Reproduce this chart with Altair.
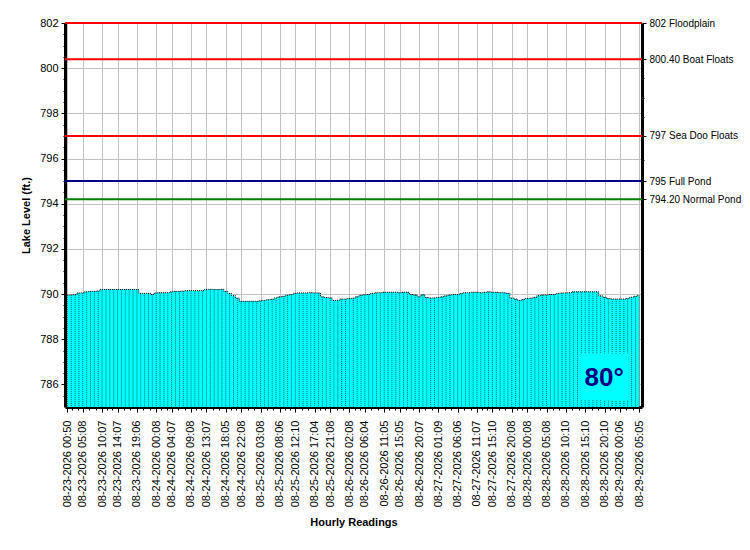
import json
import altair as alt
import pandas as pd

# ---- data ----
levels = [
    789.96, 789.96, 789.97,
    790.05, 790.05,
    790.10, 790.12, 790.12, 790.14,
    790.20, 790.20, 790.20, 790.20, 790.20, 790.20, 790.20, 790.20, 790.20, 790.20,
    790.03, 790.03, 790.03,
    789.98,
    790.05, 790.06, 790.06, 790.06,
    790.10, 790.12, 790.12, 790.13, 790.15, 790.15, 790.15, 790.15, 790.15,
    790.20, 790.21, 790.20, 790.20, 790.21,
    790.12, 790.03, 789.93, 789.82,
    789.68, 789.68, 789.68, 789.68, 789.68,
    789.70, 789.72, 789.75, 789.77,
    789.83, 789.88, 789.90, 789.95, 789.98,
    790.03, 790.05, 790.05, 790.05, 790.06, 790.05, 790.05,
    789.88, 789.85, 789.83,
    789.72, 789.72,
    789.78, 789.78, 789.80, 789.82,
    789.88,
    789.95, 789.97, 789.98,
    790.03, 790.06, 790.06, 790.08, 790.08, 790.08, 790.08, 790.06, 790.08, 790.08,
    789.98, 789.96,
    789.88,
    789.97,
    789.85, 789.83, 789.83, 789.85, 789.88,
    789.92, 789.96, 789.98, 789.98,
    790.03, 790.06, 790.06, 790.08, 790.08, 790.06, 790.08, 790.10, 790.08, 790.08, 790.06, 790.06, 790.03,
    789.82, 789.78,
    789.72,
    789.76, 789.80, 789.82, 789.85,
    789.93, 789.96, 789.96, 789.98, 789.98,
    790.03, 790.05, 790.05, 790.06,
    790.10, 790.10, 790.10, 790.10, 790.10, 790.10, 790.10,
    789.92, 789.86,
    789.80, 789.78, 789.78, 789.78, 789.78, 789.80,
    789.86, 789.90, 789.94,
]
assert len(levels) == 149

label_readings = [0, 4, 9, 13, 18, 23, 27, 32, 36, 41, 45, 50, 55, 59, 64, 68, 73,
                  77, 82, 86, 91, 96, 101, 106, 110, 115, 119, 124, 129, 134, 139, 143, 148]
label_texts = [
    "08-23-2026 00:50", "08-23-2026 05:08", "08-23-2026 10:07", "08-23-2026 14:07",
    "08-23-2026 19:06", "08-24-2026 00:08", "08-24-2026 04:07", "08-24-2026 09:08",
    "08-24-2026 13:07", "08-24-2026 18:05", "08-24-2026 22:08", "08-25-2026 03:08",
    "08-25-2026 08:06", "08-25-2026 12:10", "08-25-2026 17:04", "08-25-2026 21:08",
    "08-26-2026 02:08", "08-26-2026 06:04", "08-26-2026 11:05", "08-26-2026 15:05",
    "08-26-2026 20:07", "08-27-2026 01:09", "08-27-2026 06:06", "08-27-2026 11:07",
    "08-27-2026 15:10", "08-27-2026 20:08", "08-28-2026 00:08", "08-28-2026 05:08",
    "08-28-2026 10:10", "08-28-2026 15:10", "08-28-2026 20:10", "08-29-2026 00:06",
    "08-29-2026 05:05",
]

threshold_values = [802, 800.4, 797, 795, 794.2]
threshold_names = ["802 Floodplain", "800.40 Boat Floats", "797 Sea Doo Floats",
                   "795 Full Pond", "794.20 Normal Pond"]
threshold_colors = ["#ff0000", "#ff0000", "#ff0000", "#000080", "#008000"]
threshold_widths = [2, 2, 2, 1, 1]
right_minor_ticks = [799.55, 798.7, 797.85, 795.93]

temperature = "80°"

# ---- tables ----
df = pd.DataFrame({"reading": list(range(len(levels))), "level": levels})
df_thr = pd.DataFrame({"value": threshold_values, "name": threshold_names})

FONT = "Liberation Sans"
Y_DOMAIN = [785, 802]
X_DOMAIN = [-0.6, 148.7]
GRID = "#c0c0c0"

x_minor = []
for a, b in zip(label_readings[:-1], label_readings[1:]):
    x_minor += [a + (b - a) / 3, a + 2 * (b - a) / 3]

lab_arr = json.dumps(label_readings)
txt_arr = json.dumps(label_texts)

xscale = alt.Scale(domain=X_DOMAIN, nice=False, zero=False)
yscale = alt.Scale(domain=Y_DOMAIN, nice=False, zero=False)

x_axis = alt.Axis(
    orient="bottom", values=label_readings,
    labelExpr=f"{txt_arr}[indexof({lab_arr}, datum.value)]",
    labelAngle=-90, labelFont=FONT, labelFontSize=11, labelColor="black",
    labelPadding=8, labelOverlap=False, labelFlush=False, labelBound=False,
    grid=True, gridColor=GRID, gridWidth=1,
    tickColor="black", tickWidth=1, tickSize=5,
    domainColor="black", domainWidth=3,
    title="Hourly Readings", titleFont=FONT, titleFontSize=11,
    titleFontWeight="bold", titleColor="black", titlePadding=10,
)
x_axis_minor = alt.Axis(
    orient="bottom", values=x_minor, labels=False, grid=False, domain=False,
    tickColor="black", tickWidth=1, tickSize=3, title=None,
)

y_axis = alt.Axis(
    orient="left", values=[786 + 2 * k for k in range(9)], format="d",
    labelFont=FONT, labelFontSize=11, labelColor="black", labelPadding=3,
    labelOverlap=False,
    grid=True, gridColor=GRID, gridWidth=1,
    tickColor="black", tickWidth=1, tickSize=4,
    domainColor="black", domainWidth=3,
    title="Lake Level (ft.)", titleFont=FONT, titleFontSize=11,
    titleFontWeight="bold", titleColor="black", titlePadding=8,
)
y_axis_minor = alt.Axis(
    orient="left", values=[785.5 + 2 * k for k in range(9)] + [786.5 + 2 * k for k in range(8)]
    + [787.5 + 2 * k for k in range(8)] + [787 + 2 * k for k in range(8)],
    labels=False, grid=False, domain=False,
    tickColor="black", tickWidth=1, tickSize=2, title=None,
)

thr_arr = json.dumps(threshold_values)
name_arr = json.dumps(threshold_names)
right_axis = alt.Axis(
    orient="right", values=threshold_values,
    labelExpr=f"{name_arr}[indexof({thr_arr}, datum.value)]",
    labelFont=FONT, labelFontSize=10, labelColor="black", labelPadding=3,
    labelOverlap=False, labelFlush=False, labelBound=False,
    grid=False, tickColor="black", tickWidth=1, tickSize=4,
    domainColor="black", domainWidth=3, title=None,
)
right_axis_minor = alt.Axis(
    orient="right", values=right_minor_ticks, labels=False, grid=False, domain=False,
    tickColor="black", tickWidth=1, tickSize=2, title=None,
)

base = alt.Chart(df)

area = base.mark_area(color="#00ffff", interpolate="step", opacity=1, clip=True).encode(
    x=alt.X("reading:Q", scale=xscale, axis=x_axis),
    y=alt.Y("level:Q", scale=yscale, axis=y_axis),
    y2=alt.datum(Y_DOMAIN[0]),
)

dots = base.mark_rule(color="black", strokeDash=[1, 1], strokeWidth=1, opacity=0.6, clip=True).encode(
    x=alt.X("reading:Q", scale=xscale, axis=x_axis_minor),
    y=alt.Y("level:Q", scale=yscale, axis=y_axis_minor),
    y2=alt.datum(Y_DOMAIN[0]),
)

edge = base.mark_line(color="black", strokeDash=[1, 1], strokeWidth=1, interpolate="step", clip=True).encode(
    x=alt.X("reading:Q", scale=xscale, axis=None),
    y=alt.Y("level:Q", scale=yscale, axis=None),
)

thr = alt.Chart(df_thr).mark_rule().encode(
    y=alt.Y("value:Q", scale=yscale, axis=right_axis),
    color=alt.Color("name:N", scale=alt.Scale(domain=threshold_names, range=threshold_colors), legend=None),
    strokeWidth=alt.StrokeWidth("name:N", scale=alt.Scale(domain=threshold_names, range=threshold_widths), legend=None),
)

df_rminor = pd.DataFrame({"value": right_minor_ticks})
thr_minor = alt.Chart(df_rminor).mark_point(opacity=0).encode(
    y=alt.Y("value:Q", scale=yscale, axis=right_axis_minor),
)

df_temp = pd.DataFrame({"x0": [132.7], "x1": [145.1], "y0": [785.31], "y1": [787.36],
                        "xc": [138.9], "yc": [786.3], "t": [temperature]})
temp_box = alt.Chart(df_temp).mark_rect(color="#00ffff").encode(
    x=alt.X("x0:Q", scale=xscale, axis=None), x2="x1:Q",
    y=alt.Y("y0:Q", scale=yscale, axis=None), y2="y1:Q",
)
temp_text = alt.Chart(df_temp).mark_text(
    font=FONT, fontSize=26, fontWeight="bold", color="#000080", baseline="middle", align="center"
).encode(
    x=alt.X("xc:Q", scale=xscale, axis=None),
    y=alt.Y("yc:Q", scale=yscale, axis=None),
    text="t:N",
)

chart = alt.layer(area, dots, edge, thr, thr_minor, temp_box, temp_text).resolve_axis(
    x="independent", y="independent"
).properties(
    width=577, height=384,
    autosize=alt.AutoSizeParams(type="none"),
    padding={"left": 57, "top": 15, "right": 100, "bottom": 125},
).configure_view(stroke=None).configure(background="white")

chart.save("out.html", embed_options={"renderer": "svg", "actions": False})
